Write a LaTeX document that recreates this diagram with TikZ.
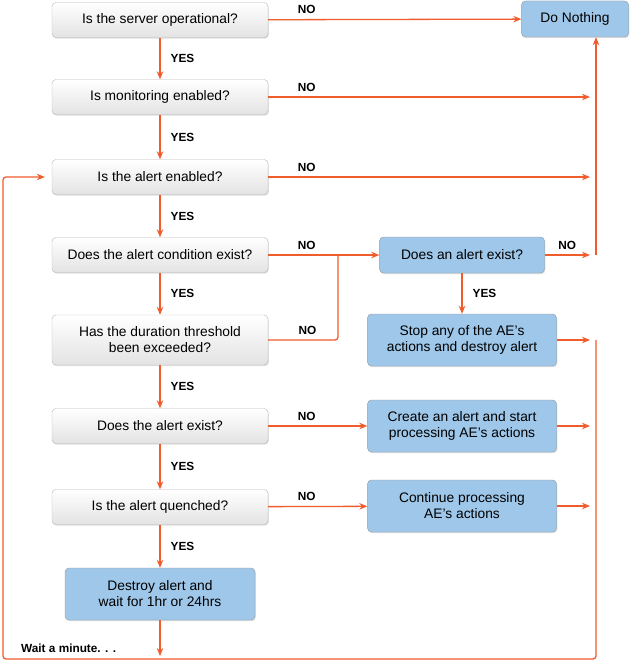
\documentclass[tikz,border=0pt]{standalone}
\usepackage{fontspec}
\setmainfont{Liberation Sans}
\usetikzlibrary{positioning,shadows,arrows.meta}
\definecolor{flowred}{RGB}{240,92,44}
\definecolor{boxblue}{RGB}{158,199,234}

\begin{document}
\begin{tikzpicture}[x=1pt, y=-1pt,
    qbox/.style={rectangle, rounded corners=4pt, draw=gray!55, top color=white, bottom color=gray!22,
        minimum width=216pt, minimum height=35pt, align=center, font=\fontsize{13.8}{16}\selectfont,
        drop shadow={shadow xshift=0.8pt, shadow yshift=-1.2pt, opacity=0.25}},
    abox/.style={qbox, fill=boxblue, top color=boxblue, bottom color=boxblue, draw=gray!75},
    lab/.style={font=\fontsize{11.8}{14}\selectfont\bfseries, inner sep=1pt},
    flow/.style={draw=flowred, line width=1.3pt, -{Stealth[length=8pt, width=6.5pt]}},
    wire/.style={draw=flowred, line width=1.3pt, rounded corners=3pt}
]
    \useasboundingbox[fill=white] (0,0) rectangle (630,661);

    % Questions
    \node[qbox] (server) at (160,20) {Is the server operational?};
    \node[qbox] (monitor) at (160,97) {Is monitoring enabled?};
    \node[qbox] (enabled) at (160,177) {Is the alert enabled?};
    \node[qbox] (cond) at (160,255) {Does the alert condition exist?};
    \node[qbox, minimum height=50pt] (thresh) at (160,340) {Has the duration threshold\\been exceeded?};
    \node[qbox] (exists) at (160,426) {Does the alert exist?};
    \node[qbox] (quench) at (160,507) {Is the alert quenched?};
    \node[abox, minimum width=190pt, minimum height=52pt] (destroy) at (160,594) {Destroy alert and\\wait for 1hr or 24hrs};

    % Actions
    \node[abox, minimum width=107pt, minimum height=36pt] (nothing) at (575,19) {Do Nothing};
    \node[abox, minimum width=165pt, minimum height=36pt] (anyalert) at (462,255) {Does an alert exist?};
    \node[abox, minimum width=189pt, minimum height=52pt] (stop) at (462,340) {Stop any of the AE’s\\actions and destroy alert};
    \node[abox, minimum width=189pt, minimum height=52pt] (create) at (462,426) {Create an alert and start\\processing AE’s actions};
    \node[abox, minimum width=189pt, minimum height=52pt] (cont) at (462,506) {Continue processing\\AE’s actions};

    \node[lab, anchor=west] (wait) at (20,648) {Wait a minute. . .};

    % Junctions
    \coordinate (rmon) at (590,97);
    \coordinate (ren) at (590,177);
    \coordinate (rany) at (590,255);
    \coordinate (vtop) at (596,255);
    \coordinate (join) at (338,255);
    \coordinate (rstop) at (590,340);
    \coordinate (rcreate) at (590,426);
    \coordinate (rcont) at (590,506);
    \coordinate (lpa) at (596,340);
    \coordinate (lpb) at (596,659);
    \coordinate (lpc) at (3,659);
    \coordinate (lpd) at (3,177);
    \coordinate (wend) at (160,656);

    % YES chain
    \draw[flow] (server) -- (monitor) node[lab, midway, right=9pt] {YES};
    \draw[flow] (monitor) -- (enabled) node[lab, midway, right=9pt] {YES};
    \draw[flow] (enabled) -- (cond) node[lab, midway, right=9pt] {YES};
    \draw[flow] (cond) -- (thresh) node[lab, midway, right=9pt] {YES};
    \draw[flow] (thresh) -- (exists) node[lab, midway, right=9pt] {YES};
    \draw[flow] (exists) -- (quench) node[lab, midway, right=9pt] {YES};
    \draw[flow] (quench) -- (destroy) node[lab, midway, right=9pt] {YES};
    \draw[flow] (anyalert) -- (stop) node[lab, midway, right=9pt] {YES};
    \draw[flow] (destroy) -- (wend);

    % NO branches
    \draw[flow] (server) -- (nothing) node[lab, pos=0, above right=4pt and 28pt] {NO};
    \draw[flow] (monitor.east) -- (rmon) node[lab, pos=0, above right=4pt and 28pt] {NO};
    \draw[flow] (enabled.east) -- (ren) node[lab, pos=0, above right=4pt and 28pt] {NO};
    \draw[flow] (cond) -- (anyalert) node[lab, pos=0, above right=4pt and 28pt] {NO};
    \draw[wire] (thresh.east) -- (thresh.east -| join) -- (join) node[lab, pos=0, above left=4pt and 20pt] {NO};
    \draw[flow] (anyalert.east) -- (rany) node[lab, pos=0, above right=4pt and 12pt] {NO};
    \draw[flow] (exists) -- (create) node[lab, pos=0, above right=4pt and 28pt] {NO};
    \draw[flow] (quench) -- (cont) node[lab, pos=0, above right=4pt and 28pt] {NO};
    \draw[flow] (vtop) -- (vtop |- nothing.south);

    % Back to the top
    \draw[flow] (stop.east) -- (rstop);
    \draw[flow] (create.east) -- (rcreate);
    \draw[flow] (cont.east) -- (rcont);
    \draw[wire, -{Stealth[length=8pt, width=6.5pt]}, shorten >=7pt] (lpa) -- (lpb) -- (lpc) -- (lpd) -- (enabled.west);
\end{tikzpicture}
\end{document}
